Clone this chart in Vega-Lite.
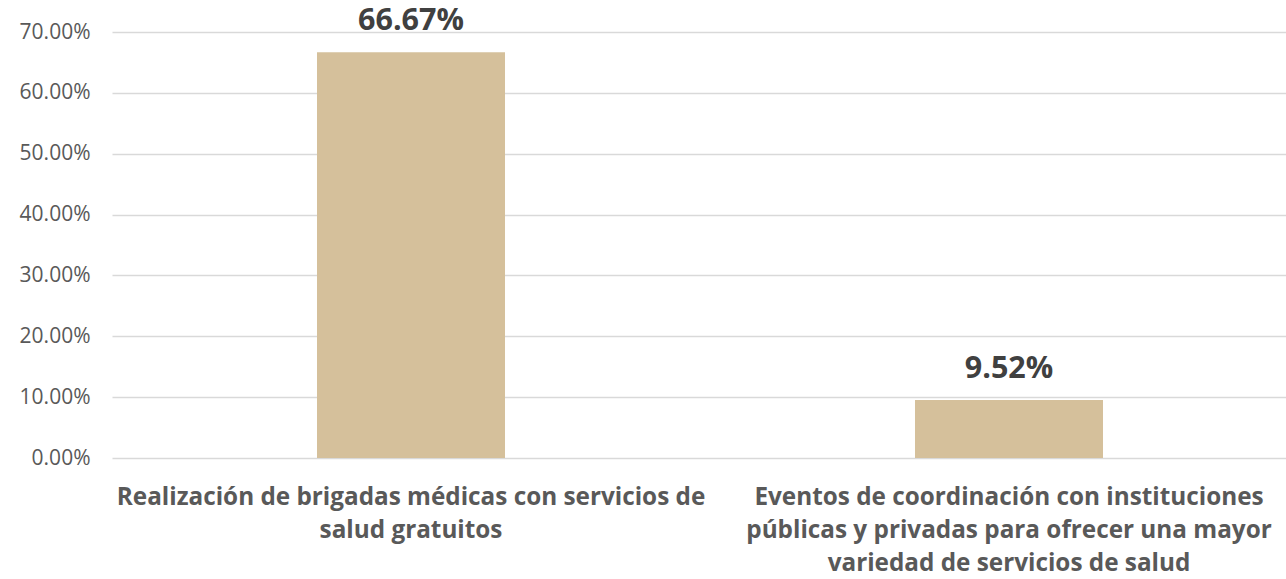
{
  "$schema": "https://vega.github.io/schema/vega-lite/v6.json",
  "autosize": {"type": "none"},
  "width": 1174,
  "height": 426,
  "padding": {"left": 112, "top": 32, "right": 0, "bottom": 121},
  "background": "white",
  "config": {"view": {"stroke": null}, "font": "Open Sans"},
  "data": {
    "values": [
      {"categoria": "Realización de brigadas médicas con servicios de salud gratuitos", "porcentaje": 0.6667},
      {"categoria": "Eventos de coordinación con instituciones públicas y privadas para ofrecer una mayor variedad de servicios de salud", "porcentaje": 0.0952}
    ]
  },
  "encoding": {
    "x": {
      "field": "categoria",
      "type": "nominal",
      "sort": null,
      "scale": {"range": [0, 1196], "paddingInner": 0.6856, "paddingOuter": 0.3428},
      "axis": {
        "title": null,
        "domain": false,
        "ticks": false,
        "labelAngle": 0,
        "labelLimit": 0,
        "labelFont": "Open Sans",
        "labelFontSize": 24.3,
        "labelFontWeight": "bold",
        "labelColor": "#595959",
        "labelPadding": 27,
        "labelLineHeight": 33,
        "labelBaseline": "top",
        "labelExpr": "datum.value == 'Realización de brigadas médicas con servicios de salud gratuitos' ? ['Realización de brigadas médicas con servicios de', 'salud gratuitos'] : ['Eventos de coordinación con instituciones', 'públicas y privadas para ofrecer una mayor', 'variedad de servicios de salud']"
      }
    },
    "y": {
      "field": "porcentaje",
      "type": "quantitative",
      "scale": {"domain": [0, 0.7]},
      "axis": {
        "title": null,
        "format": ".2%",
        "values": [0, 0.1, 0.2, 0.3, 0.4, 0.5, 0.6, 0.7],
        "domain": false,
        "ticks": false,
        "grid": true,
        "gridColor": "#D9D9D9",
        "gridWidth": 1.5,
        "labelFont": "Open Sans",
        "labelFontSize": 21,
        "labelColor": "#595959",
        "labelPadding": 22
      }
    }
  },
  "layer": [
    {"mark": {"type": "bar", "color": "#D5C09B"}},
    {
      "mark": {"type": "text", "baseline": "alphabetic", "dy": -22, "font": "Open Sans", "fontSize": 30.5, "fontWeight": "bold", "color": "#404040"},
      "encoding": {"text": {"field": "porcentaje", "type": "quantitative", "format": ".2%"}}
    }
  ]
}
